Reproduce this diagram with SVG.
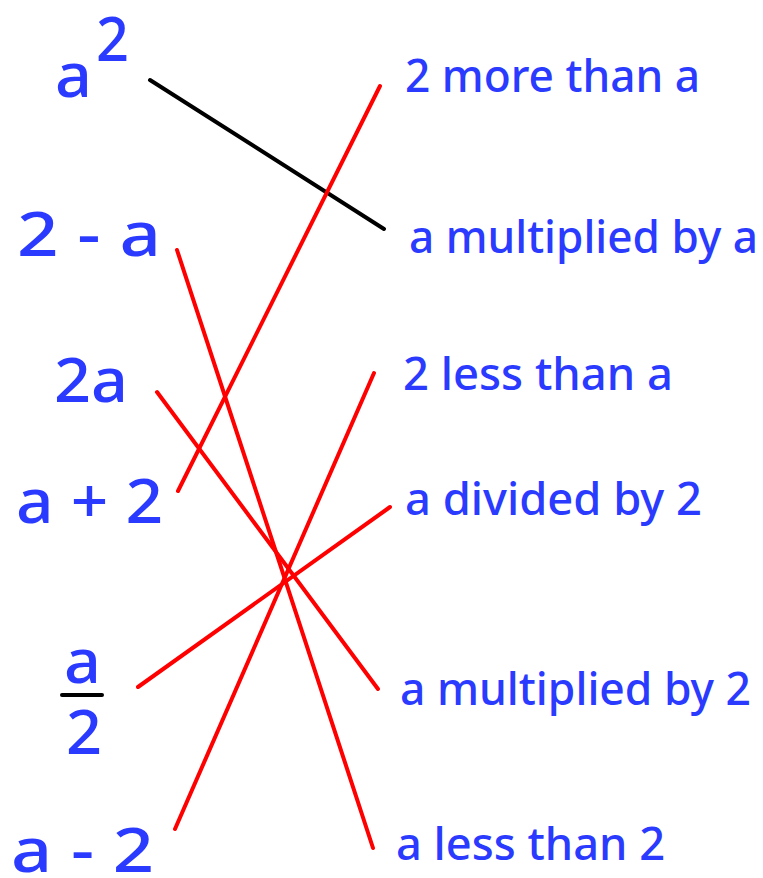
<svg xmlns="http://www.w3.org/2000/svg" width="763" height="878" viewBox="0 0 763 878">
<style>
.l{font-family:"Comic Sans MS","Noto Sans","DejaVu Sans",sans-serif;fill:#2a3aff;font-size:62px;font-weight:500}
.r{font-family:"Comic Sans MS","Noto Sans","DejaVu Sans",sans-serif;fill:#2a3aff;font-size:46px;font-weight:500}
.c{stroke:#ff0000;stroke-width:4;stroke-linecap:round;fill:none}
.k{stroke:#000;stroke-width:4;stroke-linecap:round;fill:none}
</style>
<rect width="763" height="878" fill="#fff"/>
<g id="left-a-squared"><text class="l" x="55" y="97" textLength="37" lengthAdjust="spacingAndGlyphs">a</text><text class="l" x="96" y="61" font-size="56" textLength="33" lengthAdjust="spacingAndGlyphs">2</text></g>
<g id="left-2-minus-a"><text class="l" x="17" y="256" textLength="144" lengthAdjust="spacingAndGlyphs">2 - a</text></g>
<g id="left-2a"><text class="l" x="54" y="402" textLength="74" lengthAdjust="spacingAndGlyphs">2a</text></g>
<g id="left-a-plus-2"><text class="l" x="16" y="523" textLength="147" lengthAdjust="spacingAndGlyphs">a + 2</text></g>
<g id="left-a-over-2"><text class="l" x="64" y="683" textLength="37" lengthAdjust="spacingAndGlyphs">a</text><line x1="62" y1="695" x2="102" y2="695" class="k"/><text class="l" x="66" y="754" textLength="36" lengthAdjust="spacingAndGlyphs">2</text></g>
<g id="left-a-minus-2"><text class="l" x="11" y="872" textLength="143" lengthAdjust="spacingAndGlyphs">a - 2</text></g>
<g id="right-2-more"><text class="r" x="405" y="92" textLength="295" lengthAdjust="spacingAndGlyphs">2 more than a</text></g>
<g id="right-a-times-a"><text class="r" x="409" y="253" textLength="349" lengthAdjust="spacingAndGlyphs">a multiplied by a</text></g>
<g id="right-2-less"><text class="r" x="403" y="390" textLength="270" lengthAdjust="spacingAndGlyphs">2 less than a</text></g>
<g id="right-a-div-2"><text class="r" x="405" y="515" textLength="297" lengthAdjust="spacingAndGlyphs">a divided by 2</text></g>
<g id="right-a-times-2"><text class="r" x="400" y="705" textLength="351" lengthAdjust="spacingAndGlyphs">a multiplied by 2</text></g>
<g id="right-a-less-2"><text class="r" x="396" y="860" textLength="269" lengthAdjust="spacingAndGlyphs">a less than 2</text></g>
<g id="connectors">
<line class="k" x1="150" y1="80" x2="384" y2="229"/>
<line class="c" x1="178" y1="491" x2="380" y2="86"/>
<line class="c" x1="177" y1="250" x2="373" y2="848"/>
<line class="c" x1="157" y1="392" x2="378" y2="689"/>
<line class="c" x1="374" y1="373" x2="175" y2="829"/>
<line class="c" x1="138" y1="687" x2="390" y2="507"/>
</g>
</svg>
